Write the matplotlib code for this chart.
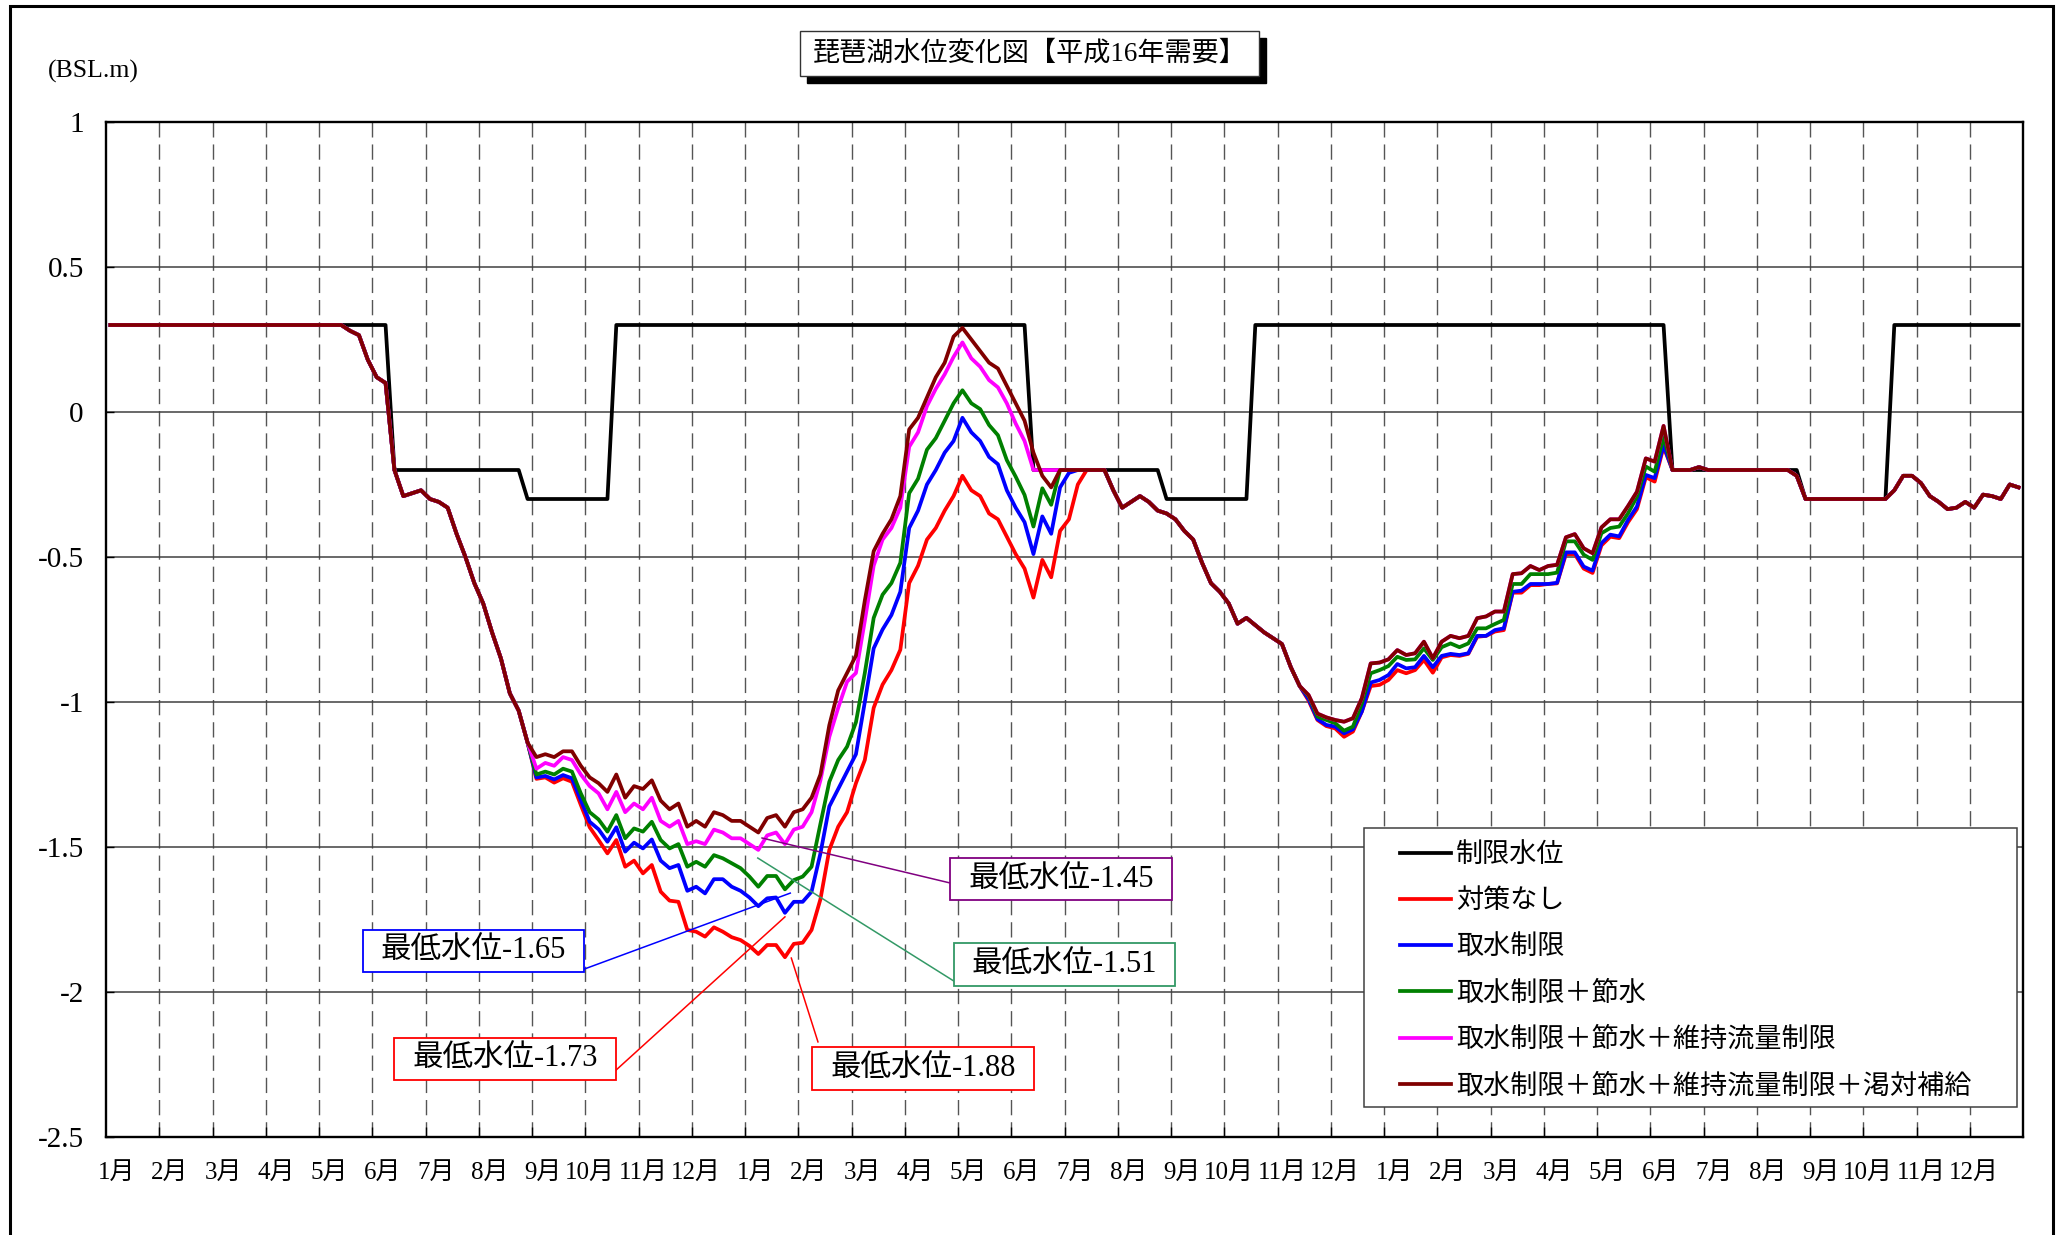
import numpy as np
import matplotlib.pyplot as plt
from matplotlib.patches import Rectangle

plt.rcParams['font.family'] = ['Liberation Serif', 'Noto Sans CJK JP']
plt.rcParams['axes.unicode_minus'] = False

title = "琵琶湖水位変化図【平成16年需要】"
unit_label = "(BSL.m)"
month_labels = [f"{m}月" for m in range(1, 13)] * 3
y_ticks = [1, 0.5, 0, -0.5, -1, -1.5, -2, -2.5]
y_tick_labels = ["1", "0.5", "0", "-0.5", "-1", "-1.5", "-2", "-2.5"]

series_names = ["制限水位", "対策なし", "取水制限", "取水制限＋節水",
                "取水制限＋節水＋維持流量制限",
                "取水制限＋節水＋維持流量制限＋渇対補給"]
series_colors = ["#000000", "#ff0000", "#0000ff", "#008000", "#ff00ff", "#800000"]

# 3 years of 5-day steps (6 per month) -> 216 values
# 制限水位 is a step series: level, number of steps it lasts
limit_levels = [0.3, -0.2, -0.3, 0.3, -0.2, -0.3, 0.3, -0.2, -0.3, 0.3]
limit_counts = [32, 15, 10, 47, 15, 10, 47, 15, 10, 15]

# 取水制限+節水+維持流量制限+渇対補給 (all runs equal it outside the two droughts)
full_plan = ([0.3] * 27 +
             [0.28, 0.265, 0.18, 0.12, 0.10,
              -0.20, -0.29, -0.28, -0.27, -0.30,
              -0.31, -0.33, -0.42, -0.50, -0.59,
              -0.66, -0.76, -0.85, -0.97, -1.03,
              -1.14, -1.19, -1.18, -1.19, -1.17,
              -1.17, -1.22, -1.26, -1.28, -1.31,
              -1.25, -1.33, -1.29, -1.30, -1.27,
              -1.34, -1.37, -1.35, -1.43, -1.41,
              -1.43, -1.38, -1.39, -1.41, -1.41,
              -1.43, -1.45, -1.40, -1.39, -1.43,
              -1.38, -1.37, -1.33, -1.25, -1.08,
              -0.96, -0.90, -0.84, -0.65, -0.48,
              -0.42, -0.37, -0.29, -0.06, -0.02,
              0.05, 0.12, 0.17, 0.26, 0.29,
              0.25, 0.21, 0.17, 0.15, 0.09,
              0.03, -0.03, -0.14, -0.22, -0.26] +
             [-0.20] * 6 +
             [-0.27, -0.33, -0.31, -0.29, -0.31,
              -0.34, -0.35, -0.37, -0.41, -0.44,
              -0.52, -0.59, -0.62, -0.66, -0.73,
              -0.71, -0.735, -0.76, -0.78, -0.80,
              -0.88, -0.945, -0.976, -1.04, -1.053,
              -1.062, -1.068, -1.056, -0.987, -0.867,
              -0.864, -0.853, -0.821, -0.838, -0.832,
              -0.792, -0.849, -0.792, -0.772, -0.780,
              -0.772, -0.711, -0.705, -0.688, -0.688,
              -0.559, -0.556, -0.531, -0.545, -0.531,
              -0.527, -0.432, -0.421, -0.470, -0.487,
              -0.398, -0.370, -0.370, -0.324, -0.275,
              -0.160, -0.171, -0.048, -0.20, -0.20,
              -0.20, -0.19] +
             [-0.20] * 10 + [-0.22] + [-0.30] * 10 +
             [-0.27, -0.22, -0.22, -0.245, -0.29,
              -0.31, -0.335, -0.33, -0.31, -0.33,
              -0.285, -0.29, -0.30, -0.25, -0.26])

# drought periods where the runs split apart (step index of first value)
split1_start = 48
split2_start = 135

pink_split1 = [-1.23, -1.21, -1.22, -1.19, -1.20, -1.25, -1.29, -1.315, -1.37, -1.31,
               -1.38, -1.35, -1.37, -1.33, -1.41, -1.43, -1.41, -1.49, -1.48, -1.49,
               -1.44, -1.45, -1.47, -1.47, -1.49, -1.51, -1.46, -1.45, -1.49, -1.44,
               -1.43, -1.38, -1.27, -1.12, -1.02, -0.93, -0.90, -0.72, -0.53, -0.44,
               -0.40, -0.33, -0.12, -0.07, 0.02, 0.08, 0.13, 0.19, 0.24, 0.185,
               0.156, 0.11, 0.085, 0.03, -0.04, -0.10, -0.20, -0.20, -0.20]

green_split1 = [-1.25, -1.24, -1.25, -1.23, -1.24, -1.315, -1.38, -1.405, -1.447, -1.39,
                -1.47, -1.436, -1.447, -1.413, -1.476, -1.505, -1.49, -1.568, -1.551, -1.568,
                -1.528, -1.539, -1.556, -1.573, -1.602, -1.637, -1.600, -1.600, -1.646, -1.614,
                -1.602, -1.568, -1.42, -1.275, -1.20, -1.154, -1.07, -0.90, -0.71, -0.63,
                -0.59, -0.52, -0.28, -0.23, -0.13, -0.09, -0.03, 0.03, 0.075, 0.03,
                0.01, -0.045, -0.08, -0.166, -0.223, -0.286, -0.395, -0.263, -0.320, -0.20]
green_split2 = [-0.98, -1.05, -1.062, -1.073, -1.099, -1.085, -1.005, -0.901, -0.89, -0.876,
                -0.844, -0.855, -0.853, -0.815, -0.855, -0.811, -0.798, -0.811, -0.798, -0.746,
                -0.746, -0.731, -0.717, -0.593, -0.593, -0.559, -0.559, -0.559, -0.554, -0.446,
                -0.446, -0.492, -0.51, -0.418, -0.40, -0.395, -0.349, -0.292, -0.188, -0.206,
                -0.085]

blue_split1 = [-1.26, -1.255, -1.267, -1.252, -1.263, -1.338, -1.413, -1.439, -1.482, -1.432,
               -1.516, -1.485, -1.505, -1.474, -1.547, -1.573, -1.562, -1.651, -1.637, -1.660,
               -1.611, -1.611, -1.637, -1.651, -1.674, -1.704, -1.677, -1.674, -1.727, -1.689,
               -1.689, -1.654, -1.522, -1.36, -1.30, -1.24, -1.18, -1.00, -0.815, -0.75,
               -0.70, -0.62, -0.40, -0.34, -0.25, -0.20, -0.14, -0.10, -0.02, -0.07,
               -0.10, -0.155, -0.18, -0.27, -0.33, -0.38, -0.49, -0.36, -0.42, -0.26,
               -0.21]
blue_split2 = [-0.99, -1.059, -1.079, -1.085, -1.108, -1.094, -1.033, -0.933, -0.924, -0.907,
               -0.869, -0.884, -0.880, -0.841, -0.880, -0.841, -0.834, -0.838, -0.832, -0.772,
               -0.772, -0.752, -0.746, -0.620, -0.616, -0.593, -0.593, -0.593, -0.589, -0.484,
               -0.484, -0.533, -0.547, -0.452, -0.423, -0.429, -0.372, -0.326, -0.217, -0.228,
               -0.114]

red_split1 = [-1.265, -1.26, -1.278, -1.263, -1.275, -1.355, -1.432, -1.476, -1.522, -1.476,
              -1.568, -1.547, -1.591, -1.562, -1.654, -1.685, -1.689, -1.786, -1.792, -1.809,
              -1.777, -1.792, -1.811, -1.821, -1.841, -1.869, -1.838, -1.838, -1.88, -1.834,
              -1.830, -1.786, -1.68, -1.51, -1.43, -1.38, -1.28, -1.20, -1.02, -0.94,
              -0.89, -0.82, -0.59, -0.53, -0.44, -0.40, -0.34, -0.29, -0.22, -0.27,
              -0.29, -0.35, -0.37, -0.43, -0.49, -0.54, -0.64, -0.51, -0.57, -0.41,
              -0.37, -0.25, -0.20]
red_split2 = [-0.995, -1.062, -1.083, -1.091, -1.120, -1.102, -1.033, -0.945, -0.941, -0.924,
              -0.890, -0.901, -0.890, -0.855, -0.899, -0.846, -0.838, -0.841, -0.834, -0.775,
              -0.772, -0.757, -0.752, -0.623, -0.623, -0.597, -0.597, -0.593, -0.591, -0.49,
              -0.49, -0.54, -0.555, -0.46, -0.43, -0.435, -0.38, -0.335, -0.225, -0.24,
              -0.12]

# minimum level call-outs: text, colour, box (x0, x1, y0, y1), leader (x0, y0, x1, y1)
lowest_texts = ["最低水位-1.45", "最低水位-1.51", "最低水位-1.65", "最低水位-1.73", "最低水位-1.88"]
lowest_colors = ["#800080", "#339966", "#0000ff", "#ff0000", "#ff0000"]
lowest_boxes = [(15.85, 20.02, -1.683, -1.538), (15.92, 20.08, -1.978, -1.832),
                (4.82, 8.98, -1.930, -1.786), (5.40, 9.58, -2.303, -2.158),
                (13.25, 17.43, -2.338, -2.190)]
lowest_leaders = [(12.32, -1.469, 15.85, -1.624), (12.24, -1.538, 15.92, -1.962),
                  (12.85, -1.659, 8.98, -1.921), (12.75, -1.741, 9.58, -2.269),
                  (12.87, -1.883, 13.37, -2.172)]


def with_splits(splits):
    y = np.array(full_plan, dtype=float)
    for start, vals in splits:
        y[start:start + len(vals)] = vals
    return y


steps = (np.arange(len(full_plan)) + 0.5) / 6
limit = np.repeat(limit_levels, limit_counts)
no_measure = with_splits([(split1_start, red_split1), (split2_start, red_split2)])
intake = with_splits([(split1_start, blue_split1), (split2_start, blue_split2)])
intake_save = with_splits([(split1_start, green_split1), (split2_start, green_split2)])
intake_save_flow = with_splits([(split1_start, pink_split1)])
all_runs = [limit, no_measure, intake, intake_save, intake_save_flow, np.array(full_plan)]

W, H = 2060, 1235
fig = plt.figure(figsize=(W / 100, H / 100), dpi=100)
ax = fig.add_axes([106 / W, 1 - 1137 / H, 1917 / W, 1015 / H])

lines = []
for y, name, col in zip(all_runs, series_names, series_colors):
    ln, = ax.plot(steps, y, color=col, lw=2.7, label=name, zorder=3)
    lines.append(ln)

ax.set_xlim(0, 36)
ax.set_ylim(-2.5, 1)
ax.set_yticks(y_ticks)
ax.set_yticklabels(y_tick_labels, fontsize=21)
ax.tick_params(axis='y', direction='in', length=6, width=1, pad=16)
ax.set_xticks(np.arange(1, 36))
ax.set_xticklabels([])
ax.tick_params(axis='x', which='major', direction='in', length=7, width=1)
ax.set_xticks(np.arange(36) + 0.55, minor=True)
ax.set_xticklabels(month_labels, minor=True, fontsize=18, ha='right')
ax.tick_params(axis='x', which='minor', length=0, pad=18)
ax.grid(axis='y', color='#404040', lw=1.1)
ax.grid(axis='x', which='major', color='#555555', lw=1.0, linestyle=(0, (11, 5)))
for sp in ax.spines.values():
    sp.set_linewidth(1.7)
    sp.set_color('black')

# call-outs
for txt, col, (bx0, bx1, by0, by1), (lx0, ly0, lx1, ly1) in zip(
        lowest_texts, lowest_colors, lowest_boxes, lowest_leaders):
    ax.plot([lx0, lx1], [ly0, ly1], color=col, lw=1.1, zorder=5)
    ax.add_patch(Rectangle((bx0, by0), bx1 - bx0, by1 - by0, fc='white', ec=col,
                           lw=1.3, zorder=6))
    ax.text((bx0 + bx1) / 2, (by0 + by1) / 2, txt, ha='center', va='center',
            fontsize=22, zorder=7)

# legend with its own frame
ax.add_patch(Rectangle((0.656, 0.0296), 0.3409, 0.2748, transform=ax.transAxes,
                       fc='white', ec='#404040', lw=1.1, zorder=8))
leg = ax.legend(handles=lines, loc='upper left',
                bbox_to_anchor=((1400 - 106) / 1917, (1137 - 843) / 1015),
                frameon=False, fontsize=19.5, handlelength=1.89, handletextpad=0.19,
                labelspacing=0.78, borderpad=0, borderaxespad=0)
leg.set_zorder(9)

# title box with drop shadow
fig.add_artist(Rectangle((807 / W, 1 - 83 / H), 459 / W, 45 / H, transform=fig.transFigure,
                         fc='black', ec='black', lw=1))
fig.add_artist(Rectangle((800 / W, 1 - 76 / H), 459 / W, 45 / H, transform=fig.transFigure,
                         fc='white', ec='#333333', lw=1))
fig.text(1029.5 / W, 1 - 54 / H, title, ha='center', va='center', fontsize=19.5)
fig.text(93 / W, 1 - 71 / H, unit_label, ha='center', va='center', fontsize=18.5)

# outer frame (open at the bottom edge of the picture)
fig.add_artist(Rectangle((10 / W, -0.01), 2043 / W, 1.01 - 6 / H, transform=fig.transFigure,
                         fill=False, ec='black', lw=2.2))

fig.savefig('out.png', dpi=100)
